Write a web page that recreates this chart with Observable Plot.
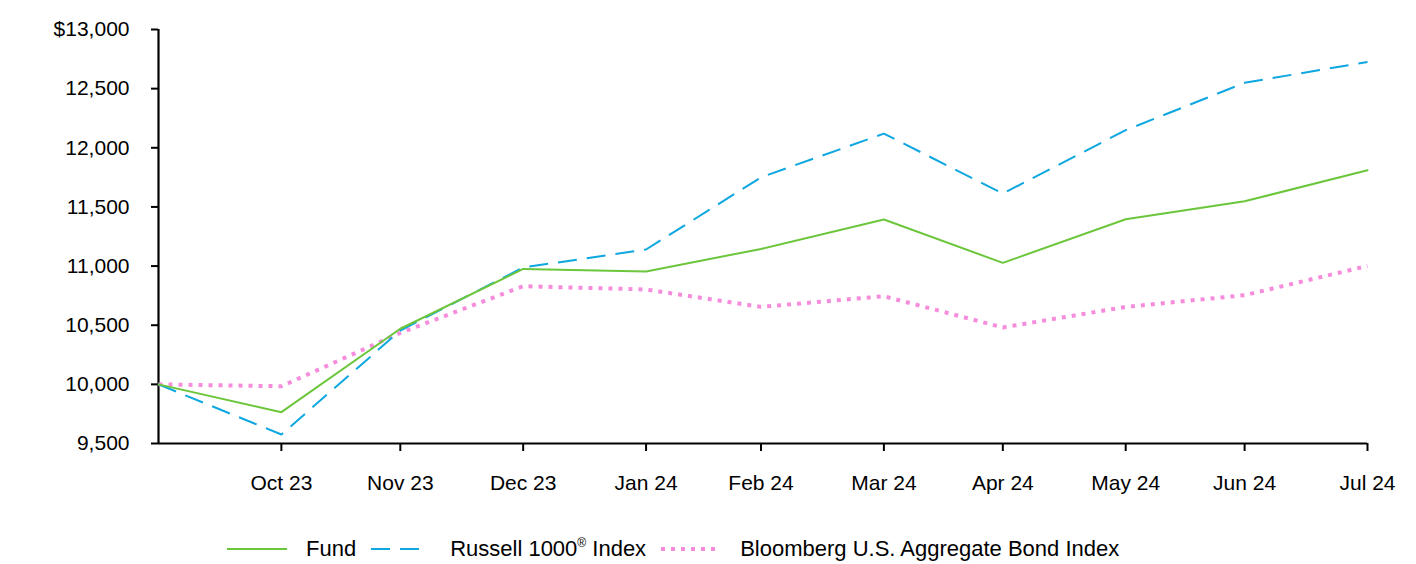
<!DOCTYPE html>
<html><head><meta charset="utf-8">
<script src="https://cdn.jsdelivr.net/npm/d3@7"></script>
<script src="https://cdn.jsdelivr.net/npm/@observablehq/plot@0.6"></script>
<style>
body{margin:0;background:#fff;font-family:"Liberation Sans",Arial,sans-serif;color:#000;}
#chart svg{display:block;}
#legend{display:flex;align-items:center;height:44px;margin-top:7px;padding-left:227px;font-size:22px;white-space:nowrap;}
#legend .item{display:flex;align-items:center;margin-right:15px;}
#legend svg{margin-right:19px;display:block;}
#legend sup{font-size:12px;vertical-align:9px;line-height:0;}
</style></head><body>
<div id="chart"></div>
<div id="legend"></div>
<script>
const dates = ["2023-09-30","2023-10-31","2023-11-30","2023-12-31","2024-01-31","2024-02-29","2024-03-31","2024-04-30","2024-05-31","2024-06-30","2024-07-31"];
const fund      = [10000, 9765, 10470, 10976, 10954, 11145, 11394, 11027, 11396, 11548, 11810];
const russell   = [10000, 9576, 10455, 10988, 11140, 11750, 12120, 11613, 12149, 12549, 12726];
const bloomberg = [10000, 9984, 10435, 10830, 10802, 10655, 10745, 10481, 10655, 10754, 11001];
const seriesNames = ["Fund", "Russell 1000® Index", "Bloomberg U.S. Aggregate Bond Index"];
const seriesColors = ["#6cc63c", "#0ea7e0", "#f68ddc"];
const xTickDates = ["2023-10-31","2023-11-30","2023-12-31","2024-01-31","2024-02-29","2024-03-31","2024-04-30","2024-05-31","2024-06-30","2024-07-31"];
const xTickLabels = ["Oct 23","Nov 23","Dec 23","Jan 24","Feb 24","Mar 24","Apr 24","May 24","Jun 24","Jul 24"];
const yTicks = [9500, 10000, 10500, 11000, 11500, 12000, 12500, 13000];
const yTickLabels = ["9,500","10,000","10,500","11,000","11,500","12,000","12,500","$13,000"];

const parse = d3.utcParse("%Y-%m-%d");
const valuesBySeries = [fund, russell, bloomberg];
const rows = [];
seriesNames.forEach((name, s) => {
  dates.forEach((d, i) => rows.push({date: parse(d), value: valuesBySeries[s][i], series: name}));
});
const xLabelMap = new Map(xTickDates.map((d, i) => [+parse(d), xTickLabels[i]]));
const yLabelMap = new Map(yTicks.map((v, i) => [v, yTickLabels[i]]));
const styles = [
  {strokeWidth: 2},
  {strokeWidth: 2, strokeDasharray: "19,10", strokeLinecap: "butt"},
  {strokeWidth: 4, strokeDasharray: "4,6", strokeLinecap: "butt"}
];
const swatchLen = [60, 48, 60];

const chart = Plot.plot({
  width: 1416, height: 520,
  marginLeft: 158, marginRight: 49, marginTop: 29, marginBottom: 77,
  style: {fontFamily: "'Liberation Sans', Arial, sans-serif", fontSize: "21px", color: "#000", background: "#fff", overflow: "visible"},
  x: {type: "utc", domain: [parse(dates[0]), parse(dates[dates.length - 1])]},
  y: {domain: [yTicks[0], yTicks[yTicks.length - 1]]},
  marks: [
    Plot.axisX(xTickDates.map(parse), {tickFormat: d => xLabelMap.get(+d), tickSize: 8, tickPadding: 24, strokeWidth: 2, stroke: "#000", fill: "#000", fontSize: 21, label: null}),
    Plot.axisY(yTicks, {tickFormat: d => yLabelMap.get(d), tickSize: 7, tickPadding: 22, strokeWidth: 2, stroke: "#000", fill: "#000", fontSize: 21, label: null}),
    Plot.ruleY([yTicks[0]], {stroke: "#000", strokeWidth: 2.2}),
    Plot.ruleX([parse(dates[0])], {stroke: "#000", strokeWidth: 2.2}),
    ...[2, 1, 0].map(s => Plot.line(rows.filter(r => r.series === seriesNames[s]), {
      x: "date", y: "value", stroke: seriesColors[s], strokeLinejoin: "miter", ...styles[s]
    }))
  ]
});
document.getElementById("chart").appendChild(chart);

const legend = d3.select("#legend");
seriesNames.forEach((name, s) => {
  const item = legend.append("div").attr("class", "item");
  const sw = item.append("svg").attr("width", 60).attr("height", 10);
  sw.append("line").attr("x1", 0).attr("x2", swatchLen[s]).attr("y1", 5).attr("y2", 5)
    .attr("stroke", seriesColors[s]).attr("stroke-width", styles[s].strokeWidth)
    .attr("stroke-dasharray", styles[s].strokeDasharray || null);
  item.append("span").html(name.replace("®", "<sup>®</sup>"));
});
</script>
</body></html>
